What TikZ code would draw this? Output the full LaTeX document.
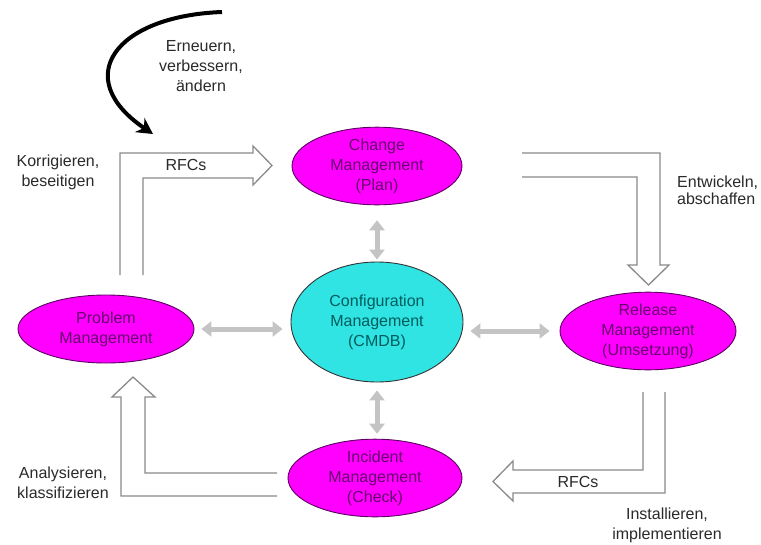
\documentclass[tikz,border=0pt]{standalone}
\usepackage{fontspec}
\setmainfont{Liberation Sans}
\usetikzlibrary{arrows.meta,shapes.geometric}

\definecolor{procfill}{HTML}{FF00FF}
\definecolor{proctext}{HTML}{66006E}
\definecolor{procline}{HTML}{5A0060}
\definecolor{cmdbfill}{HTML}{30E4E4}
\definecolor{cmdbtext}{HTML}{005C5C}
\definecolor{linkgray}{HTML}{C4C4C4}
\definecolor{blockgray}{HTML}{8A8A8A}
\definecolor{labelgray}{HTML}{2A2A2A}

\tikzset{
  proc/.style={ellipse, draw=procline, line width=0.9pt, fill=procfill,
    text=proctext, align=center, inner sep=0pt,
    font=\fontsize{16}{20}\selectfont},
  cmdb/.style={ellipse, draw=black!80, line width=0.9pt, fill=cmdbfill,
    text=cmdbtext, align=center, inner sep=0pt,
    font=\fontsize{16}{20}\selectfont},
  lbl/.style={text=labelgray, align=center, inner sep=0pt,
    font=\fontsize{16}{20}\selectfont},
  graylink/.style={draw=linkgray, line width=5pt,
    {Triangle[width=15pt,length=10pt]}-{Triangle[width=15pt,length=10pt]}},
  blockarrow/.style={draw=blockgray, line width=1.3pt, fill=white, line join=miter},
  curvedarrow/.style={draw=black, line width=4pt, -{Stealth[width=17pt,length=16pt]}}
}

\begin{document}
\begin{tikzpicture}[x=1pt,y=-1pt]
  \useasboundingbox[fill=white] (0,0) rectangle (761,544);

  % process nodes
  \node[proc, minimum width=170pt, minimum height=64pt] (change) at (377,166)
    {Change\\Management\\(Plan)};
  \node[cmdb, minimum width=172pt, minimum height=120pt] (cmdb) at (377,322)
    {Configuration\\Management\\(CMDB)};
  \node[proc, minimum width=176pt, minimum height=68pt] (problem) at (106,329)
    {Problem\\Management};
  \node[proc, minimum width=176pt, minimum height=70pt] (release) at (648,331)
    {Release\\Management\\(Umsetzung)};
  \node[proc, minimum width=174pt, minimum height=68pt] (incident) at (375,478)
    {Incident\\Management\\(Check)};

  % links to the CMDB
  \draw[graylink, shorten <=15pt, shorten >=2pt] (change.south) -- (cmdb.north);
  \draw[graylink, shorten <=7pt, shorten >=8pt]
    (problem.east) -- (problem.east -| cmdb.west);
  \draw[graylink, shorten <=7pt, shorten >=10pt]
    (cmdb.east |- release.west) -- (release.west);
  \draw[graylink, shorten <=8pt, shorten >=5pt]
    (cmdb.south) -- (cmdb.south |- incident.north);

  % block arrows of the cycle
  \path[blockarrow] (120,275) -- (120,153) -- (253,153) -- (253,146)
    -- (272,165.5) -- (253,185) -- (253,178) -- (143,178) -- (143,275);
  \node[lbl] (rfcA) at (186,165) {RFCs};

  \path[blockarrow] (522,153) -- (660,153) -- (660,265) -- (669,265)
    -- (648.5,285) -- (628,265) -- (637,265) -- (637,177) -- (522,177);

  \path[blockarrow] (665,392) -- (665,493) -- (513,493) -- (513,501)
    -- (493,481.5) -- (513,461) -- (513,470) -- (643,470) -- (643,392);
  \node[lbl] (rfcB) at (578,482) {RFCs};

  \path[blockarrow] (277,473) -- (145,473) -- (145,397) -- (155,397)
    -- (133,377) -- (112,397) -- (121,397) -- (121,496) -- (277,496);

  % activity labels
  \node[lbl] (renew) at (201,66) {Erneuern,\\verbessern,\\ändern};
  \node[lbl] (fix) at (58,172) {Korrigieren,\\beseitigen};
  \node[lbl, align=left, anchor=west, font=\fontsize{16}{17}\selectfont]
    (develop) at (677,190) {Entwickeln,\\abschaffen};
  \node[lbl] (analyse) at (63,483) {Analysieren,\\klassifizieren};
  \node[lbl] (install) at (667,525) {Installieren,\\implementieren};

  % curved improvement arrow
  \coordinate (bendstart) at (222,12);
  \coordinate (bendend) at (153,134);
  \draw[curvedarrow] (bendstart) .. controls (115,16) and (70,78) .. (bendend);
\end{tikzpicture}
\end{document}
